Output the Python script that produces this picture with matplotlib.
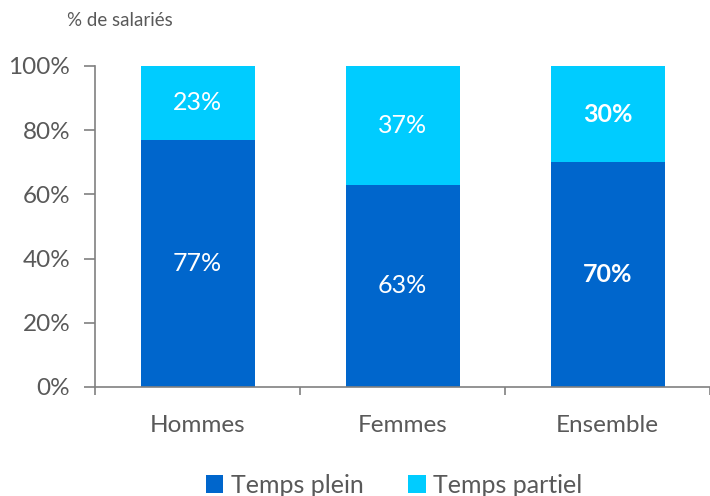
import numpy as np
import matplotlib.pyplot as plt

plt.rcParams['font.family'] = ['Lato', 'DejaVu Sans']

categories = ['Hommes', 'Femmes', 'Ensemble']
plein = [77, 63, 70]
partiel = [23, 37, 30]
series_names = ['Temps plein', 'Temps partiel']

c_plein = '#0066cc'
c_partiel = '#00ccff'
grey = '#595959'

fig = plt.figure(figsize=(7.1, 4.96), dpi=100)
ax = fig.add_axes([0.134, 0.22, 0.866, 0.647])

x = np.arange(len(categories))
w = 0.556
ax.bar(x, plein, w, color=c_plein, label=series_names[0])
ax.bar(x, partiel, w, bottom=plein, color=c_partiel, label=series_names[1])

for i in range(len(categories)):
    weight = 'bold' if categories[i] == 'Ensemble' else 'normal'
    ax.text(x[i], plein[i] / 2, f'{plein[i]}%', ha='center', va='center',
            color='white', fontsize=18, fontweight=weight)
    ax.text(x[i], plein[i] + partiel[i] / 2, f'{partiel[i]}%', ha='center',
            va='center', color='white', fontsize=18, fontweight=weight)

ax.set_xlim(-0.5, 2.5)
ax.set_ylim(0, 100)
ax.set_yticks(np.arange(0, 101, 20))
ax.set_yticklabels([f'{v}%' for v in range(0, 101, 20)])
ax.set_xticks(x)
ax.set_xticklabels(categories)
ax.set_xticks([-0.5, 0.5, 1.5, 2.5], minor=True)
ax.tick_params(axis='x', which='major', length=0, pad=20, labelsize=17.5, labelcolor=grey)
ax.tick_params(axis='x', which='minor', length=6, color='#808080', width=1.2)
ax.tick_params(axis='y', length=8, color='#808080', width=1.2, pad=10,
               labelsize=17.5, labelcolor=grey)
for s in ['top', 'right']:
    ax.spines[s].set_visible(False)
for s in ['left', 'bottom']:
    ax.spines[s].set_color('#808080')
    ax.spines[s].set_linewidth(1.2)

fig.text(0.095, 0.958, '% de salariés', fontsize=13.5, color=grey, va='center')

leg = fig.legend(loc='center', bbox_to_anchor=(0.555, 0.022), ncol=2, frameon=False,
                 fontsize=18, handlelength=0.7, handleheight=0.7, handletextpad=0.3,
                 columnspacing=1.8)
for t in leg.get_texts():
    t.set_color(grey)

fig.savefig('out.png', dpi=100)
